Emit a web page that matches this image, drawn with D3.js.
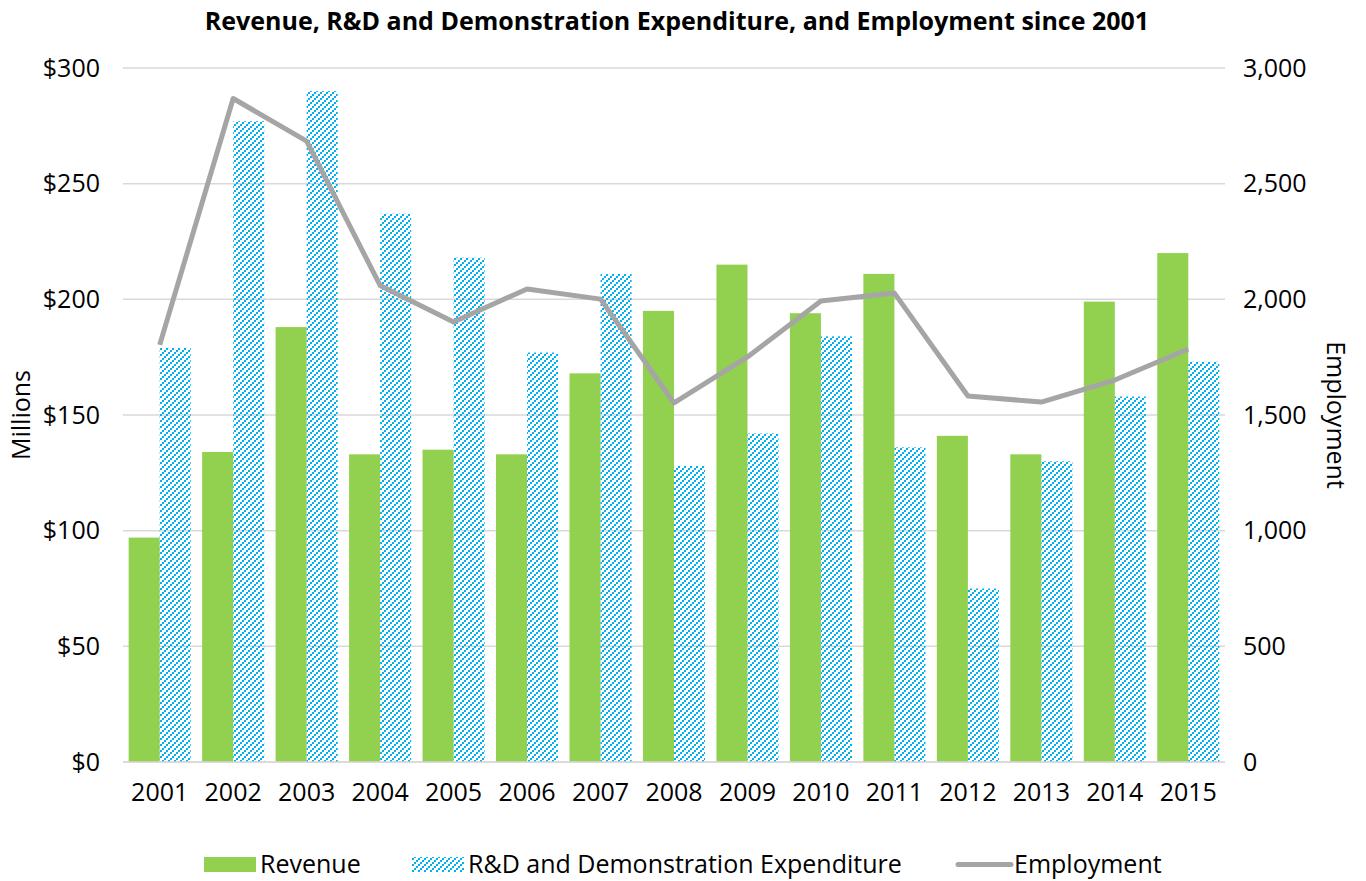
<!DOCTYPE html>
<html><head><meta charset="utf-8">
<script src="https://cdn.jsdelivr.net/npm/d3@7"></script>
<style>body{margin:0;background:#fff;} text{font-family:"Open Sans","Noto Sans",sans-serif;fill:#000;}</style>
</head><body>
<svg id="c" width="1366" height="881"></svg>
<script>
const years = ["2001","2002","2003","2004","2005","2006","2007","2008","2009","2010","2011","2012","2013","2014","2015"];
const revenue = [97,134,188,133,135,133,168,195,215,194,211,141,133,199,220];
const rnd = [179,277,290,237,218,177,211,128,142,184,136,75,130,158,173];
const employment = [1803,2868,2684,2060,1902,2045,2001,1552,1751,1993,2027,1582,1556,1651,1785];
const leftTicks = [0,50,100,150,200,250,300];
const rightTicks = [0,500,1000,1500,2000,2500,3000];

const svg = d3.select("#c");
const L=123,R=1225,T=68,B=762;
const FS = 25;
const defs = svg.append("defs");
const pat = defs.append("pattern").attr("id","hatch").attr("patternUnits","userSpaceOnUse")
  .attr("width",6).attr("height",6);
[[0,4],[2,2],[4,0]].forEach(p=>pat.append("rect").attr("x",p[0]).attr("y",p[1]).attr("width",2).attr("height",2)
  .attr("fill","#00b0f0").attr("shape-rendering","crispEdges"));

const x = d3.scaleBand().domain(years).range([L,R]).paddingInner(0.155).paddingOuter(0.077);
const yL = d3.scaleLinear().domain([0,300]).range([B,T]);
const yR = d3.scaleLinear().domain([0,3000]).range([B,T]);

svg.append("g").selectAll("line").data(leftTicks).join("line")
  .attr("x1",L).attr("x2",R).attr("y1",d=>yL(d)).attr("y2",d=>yL(d))
  .attr("stroke","#d9d9d9").attr("stroke-width",1.5);

const bw = x.bandwidth()/2;
svg.append("g").selectAll("rect").data(years).join("rect")
  .attr("x",d=>x(d)).attr("width",bw)
  .attr("y",(d,i)=>yL(revenue[i])).attr("height",(d,i)=>B-yL(revenue[i]))
  .attr("fill","#92d050");
svg.append("g").selectAll("rect").data(years).join("rect")
  .attr("x",d=>x(d)+bw).attr("width",bw)
  .attr("y",(d,i)=>yL(rnd[i])).attr("height",(d,i)=>B-yL(rnd[i]))
  .attr("fill","url(#hatch)");

const line = d3.line().x((d,i)=>x(years[i])+x.bandwidth()/2).y(d=>yR(d));
svg.append("path").datum(employment).attr("d",line).attr("fill","none")
  .attr("stroke","#a5a5a5").attr("stroke-width",5).attr("stroke-linejoin","round");

function styleAxis(g){
  g.select(".domain").remove();
  g.selectAll("text").attr("font-size",FS).attr("fill","#000").attr("font-family","'Open Sans','Noto Sans',sans-serif");
}
svg.append("g").attr("transform",`translate(${L},0)`)
  .call(d3.axisLeft(yL).tickValues(leftTicks).tickSize(0).tickPadding(23).tickFormat(d=>"$"+d)).call(styleAxis);
svg.append("g").attr("transform",`translate(${R},0)`)
  .call(d3.axisRight(yR).tickValues(rightTicks).tickSize(0).tickPadding(18).tickFormat(d3.format(","))).call(styleAxis);
svg.append("g").attr("transform",`translate(0,${B})`)
  .call(d3.axisBottom(x).tickSize(0).tickPadding(21)).call(styleAxis);
svg.append("line").attr("x1",L).attr("x2",R).attr("y1",B).attr("y2",B).attr("stroke","#d9d9d9").attr("stroke-width",1.5);

svg.append("text").attr("x",677).attr("y",30).attr("text-anchor","middle")
  .attr("font-size",25).attr("font-weight","bold").text("Revenue, R&D and Demonstration Expenditure, and Employment since 2001");
svg.append("text").attr("transform","translate(30,415) rotate(-90)").attr("text-anchor","middle")
  .attr("font-size",FS).text("Millions");
svg.append("text").attr("transform","translate(1327,415) rotate(90)").attr("text-anchor","middle")
  .attr("font-size",FS).text("Employment");

const lg = svg.append("g");
lg.append("rect").attr("x",204).attr("y",857).attr("width",52).attr("height",15).attr("fill","#92d050");
lg.append("text").attr("x",260).attr("y",873).attr("font-size",FS).text("Revenue");
lg.append("rect").attr("x",412).attr("y",857).attr("width",52).attr("height",15).attr("fill","url(#hatch)");
lg.append("text").attr("x",468).attr("y",873).attr("font-size",FS).text("R&D and Demonstration Expenditure");
lg.append("line").attr("x1",958).attr("x2",1011).attr("y1",864.5).attr("y2",864.5).attr("stroke","#a5a5a5").attr("stroke-width",5).attr("stroke-linecap","round");
lg.append("text").attr("x",1014).attr("y",873).attr("font-size",FS).text("Employment");
</script>
</body></html>
